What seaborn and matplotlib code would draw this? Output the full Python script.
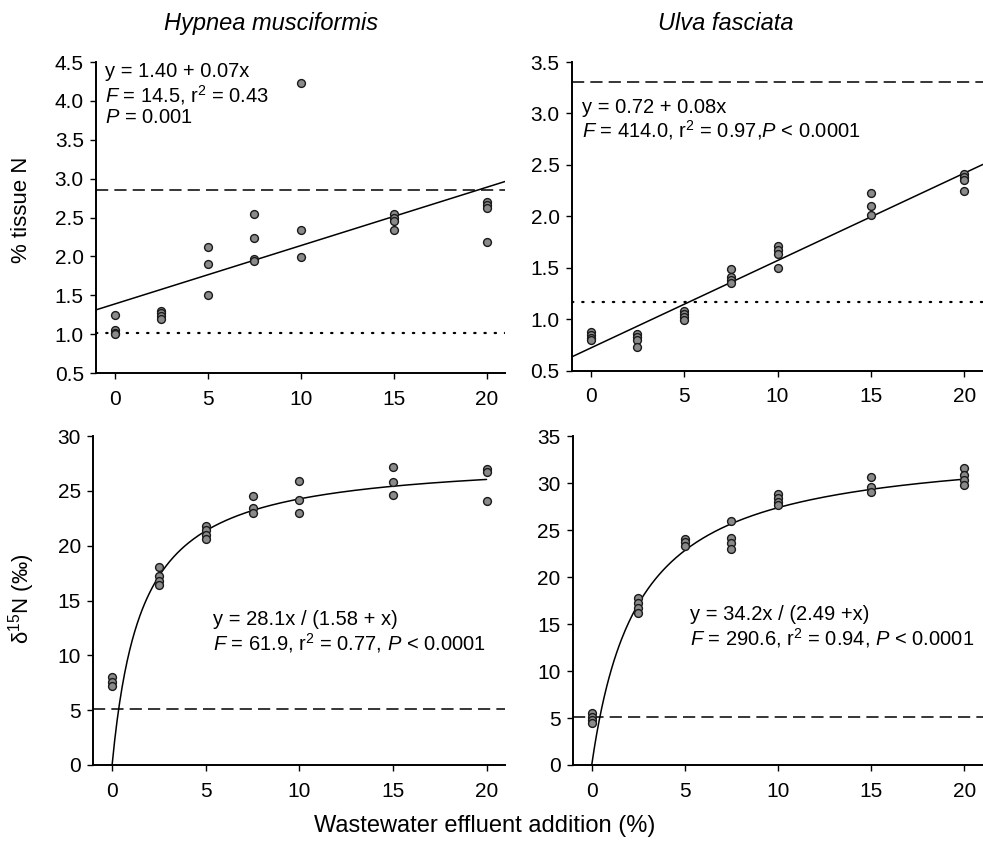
import numpy as np
import pandas as pd
import matplotlib
matplotlib.use("Agg")
import matplotlib.pyplot as plt
import seaborn as sns

# effluent levels (%)
x_levels = [0, 2.5, 5, 7.5, 10, 15, 20]

# % tissue N, Hypnea musciformis
hyp_n = [[1.25, 1.05, 1.02, 1.00],
         [1.30, 1.27, 1.23, 1.20],
         [2.12, 1.90, 1.50],
         [2.54, 2.24, 1.97, 1.94],
         [4.23, 2.34, 1.99],
         [2.54, 2.50, 2.46, 2.34],
         [2.70, 2.66, 2.62, 2.18]]

# % tissue N, Ulva fasciata
ulva_n = [[0.88, 0.85, 0.82, 0.80],
          [0.86, 0.83, 0.80, 0.73],
          [1.08, 1.05, 1.02, 0.99],
          [1.49, 1.41, 1.38, 1.35],
          [1.71, 1.67, 1.63, 1.50],
          [2.23, 2.10, 2.01],
          [2.41, 2.38, 2.35, 2.25]]

# d15N, Hypnea musciformis
hyp_d15 = [[8.0, 7.6, 7.2],
           [18.1, 17.2, 16.8, 16.4],
           [21.8, 21.4, 21.0, 20.6],
           [24.5, 23.4, 23.0],
           [25.9, 24.2, 23.0],
           [27.2, 25.8, 24.6],
           [27.0, 26.7, 24.1]]

# d15N, Ulva fasciata
ulva_d15 = [[5.5, 5.1, 4.8, 4.5],
            [17.8, 17.2, 16.7, 16.2],
            [24.0, 23.7, 23.3],
            [26.0, 24.2, 23.6, 23.0],
            [28.8, 28.4, 28.0, 27.7],
            [30.6, 29.6, 29.1],
            [31.6, 30.9, 30.3, 29.8]]

# fitted models
hyp_lin = (1.39, 0.075)
ulva_lin = (0.72, 0.085)
hyp_sat = (28.1, 1.58)
ulva_sat = (34.2, 2.49)

# reference levels
hyp_n_dash, hyp_n_dot = 2.85, 1.02
ulva_n_dash, ulva_n_dot = 3.31, 1.17
d15_dash = 5.1

sns.set_theme(style="ticks")
plt.rcParams["font.family"] = ["Liberation Sans", "DejaVu Sans"]
plt.rcParams["mathtext.fontset"] = "custom"
plt.rcParams["mathtext.rm"] = "Liberation Sans"
plt.rcParams["mathtext.it"] = "Liberation Sans:italic"
plt.rcParams["text.color"] = "black"


def to_df(vals):
    rows = [(x, v) for x, grp in zip(x_levels, vals) for v in grp]
    return pd.DataFrame(rows, columns=["x", "y"])


fig = plt.figure(figsize=(9.83, 8.5), dpi=100)
ax_tl = fig.add_axes([0.098, 0.561, 0.416, 0.366])
ax_tr = fig.add_axes([0.582, 0.564, 0.418, 0.363])
ax_bl = fig.add_axes([0.095, 0.100, 0.419, 0.387])
ax_br = fig.add_axes([0.583, 0.100, 0.417, 0.387])

xx = np.linspace(-1, 21, 100)
xc = np.linspace(0, 20, 300)

panels = [
    (ax_tl, hyp_n, (0.5, 4.5), 0.5, "lin", hyp_lin, hyp_n_dash, hyp_n_dot),
    (ax_tr, ulva_n, (0.5, 3.5), 0.5, "lin", ulva_lin, ulva_n_dash, ulva_n_dot),
    (ax_bl, hyp_d15, (0, 30), 5, "sat", hyp_sat, d15_dash, None),
    (ax_br, ulva_d15, (0, 35), 5, "sat", ulva_sat, d15_dash, None),
]

for ax, vals, ylim, step, kind, pars, dash, dot in panels:
    ax.axhline(dash, color="black", lw=1.1, dashes=(8, 4))
    if dot is not None:
        ax.axhline(dot, color="black", lw=1.6, dashes=(0.6, 4), dash_capstyle="round")
    if kind == "lin":
        sns.lineplot(x=xx, y=pars[0] + pars[1] * xx, ax=ax, color="black", lw=1.1)
    else:
        sns.lineplot(x=xc, y=pars[0] * xc / (pars[1] + xc), ax=ax, color="black", lw=1.1)
    sns.scatterplot(data=to_df(vals), x="x", y="y", ax=ax, s=32, color="#8a8a8a",
                    edgecolor="#1a1a1a", linewidth=1.0, zorder=5, legend=False)
    ax.set_xlim(-1, 21)
    ax.set_ylim(*ylim)
    ax.set_xticks([0, 5, 10, 15, 20])
    yt = np.arange(ylim[0], ylim[1] + step / 2, step)
    ax.set_yticks(yt)
    if step < 1:
        ax.set_yticklabels([f"{v:.1f}" for v in yt])
    ax.set_xlabel("")
    ax.set_ylabel("")
    for s in ["top", "right"]:
        ax.spines[s].set_visible(False)
    for s in ["left", "bottom"]:
        ax.spines[s].set_linewidth(1.4)
        ax.spines[s].set_color("black")
    ax.tick_params(axis="both", labelsize=15, length=4, width=1.0, colors="black")
    ax.tick_params(axis="x", pad=8)
    ax.tick_params(axis="y", pad=5)
    ax.set_facecolor("white")

fs = 14.5
ax_tl.text(0.022, 1.0, "y = 1.40 + 0.07x\n$\\mathit{F}$ = 14.5, r$^2$ = 0.43\n$\\mathit{P}$ = 0.001",
           transform=ax_tl.transAxes, ha="left", va="top", fontsize=fs, linespacing=1.1)
ax_tr.text(0.024, 0.885, "y = 0.72 + 0.08x\n$\\mathit{F}$ = 414.0, r$^2$ = 0.97,$\\mathit{P}$ < 0.0001",
           transform=ax_tr.transAxes, ha="left", va="top", fontsize=fs, linespacing=1.1)
ax_bl.text(0.29, 0.47, "y = 28.1x / (1.58 + x)\n$\\mathit{F}$ = 61.9, r$^2$ = 0.77, $\\mathit{P}$ < 0.0001",
           transform=ax_bl.transAxes, ha="left", va="top", fontsize=fs, linespacing=1.1)
ax_br.text(0.285, 0.485, "y = 34.2x / (2.49 +x)\n$\\mathit{F}$ = 290.6, r$^2$ = 0.94, $\\mathit{P}$ < 0.0001",
           transform=ax_br.transAxes, ha="left", va="top", fontsize=fs, linespacing=1.1)

fig.text(0.276, 0.972, "Hypnea musciformis", ha="center", va="center", fontsize=17, style="italic")
fig.text(0.738, 0.972, "Ulva fasciata", ha="center", va="center", fontsize=17, style="italic")
fig.text(0.022, 0.753, "% tissue N", rotation=90, ha="center", va="center", fontsize=16)
fig.text(0.022, 0.295, "δ$^{15}$N (‰)", rotation=90, ha="center", va="center", fontsize=16)
fig.text(0.493, 0.028, "Wastewater effluent addition (%)", ha="center", va="center", fontsize=17)

fig.savefig("out.png", dpi=100, facecolor="white")
